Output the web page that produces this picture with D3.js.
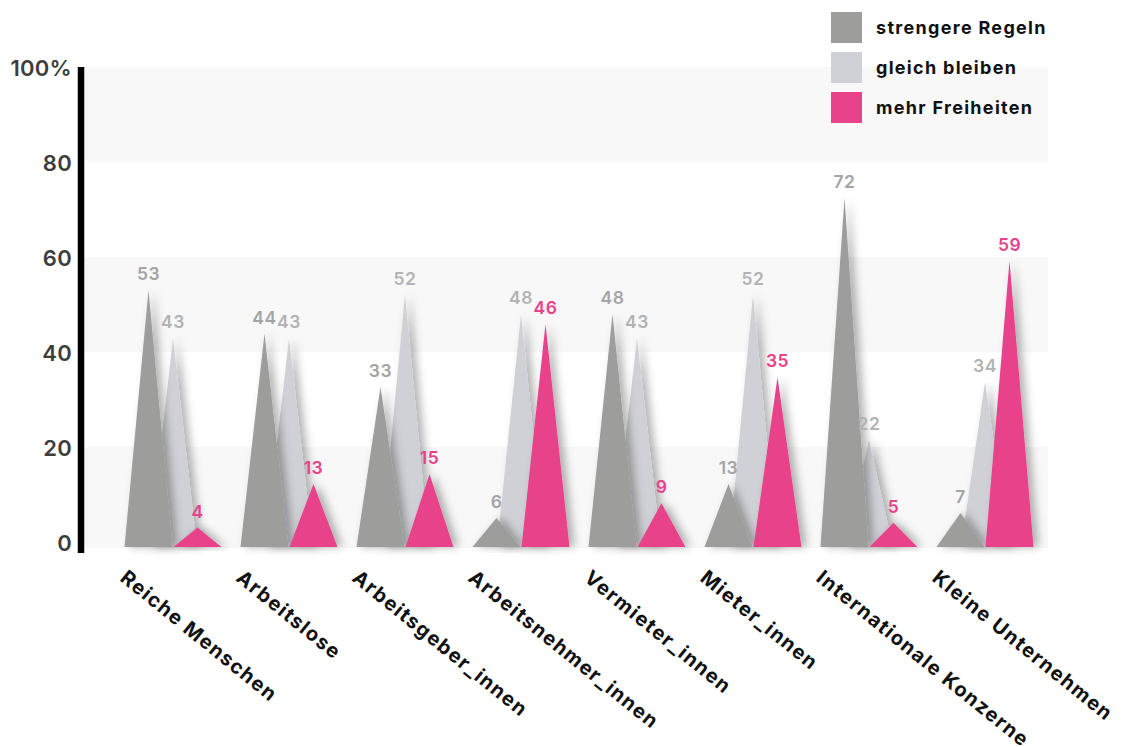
<!DOCTYPE html>
<html>
<head>
<meta charset="utf-8">
<title>Regeln oder Freiheiten</title>
<script src="https://cdnjs.cloudflare.com/ajax/libs/d3/7.8.5/d3.min.js"></script>
<style>
    body { margin:0; background:#fff; }
    svg { display:block; font-family:Inter, "Open Sans", sans-serif; }
</style>
</head>
<body>
<svg id="chart" width="1132" height="747"></svg>
<script>
// data
var categories = ["Reiche Menschen","Arbeitslose","Arbeitsgeber_innen","Arbeitsnehmer_innen",
                  "Vermieter_innen","Mieter_innen","Internationale Konzerne","Kleine Unternehmen"];
var strengere  = [53,44,33,6,48,13,72,7];
var gleich     = [43,43,52,48,43,52,22,34];
var freiheiten = [4,13,15,46,9,35,5,59];
var seriesNames = ["strengere Regeln","gleich bleiben","mehr Freiheiten"];
var yTicks = [0,20,40,60,80,100];

var colors = {"strengere Regeln":"#9d9d9c","gleich bleiben":"#d0d1d6","mehr Freiheiten":"#e8428a"};
var labelColors = {"strengere Regeln":"#a4a4a4","gleich bleiben":"#b3b3b5","mehr Freiheiten":"#e8428a"};
var values = {"strengere Regeln":strengere,"gleich bleiben":gleich,"mehr Freiheiten":freiheiten};

var svg = d3.select("#chart");

var defs = svg.append("defs");
var f = defs.append("filter").attr("id","shadow").attr("x","-50%").attr("y","-20%").attr("width","200%").attr("height","140%");
f.append("feDropShadow").attr("dx",5).attr("dy",0).attr("stdDeviation",4)
    .attr("flood-color","#000").attr("flood-opacity",0.3);

var x = d3.scaleBand().domain(categories).range([115,1043]);
var xs = d3.scalePoint().domain(seriesNames).range([-24.5,24.5]);
var yGrid = d3.scaleLinear().domain([0,100]).range([542,67]);
var y = d3.scaleLinear().domain([0,100]).range([547,62]);
var half = 24;

// light bands
var bands = [[80,100],[40,60],[0,20]];
svg.append("g").selectAll("rect").data(bands).join("rect")
    .attr("x",84).attr("width",964)
    .attr("y",function(d){return yGrid(d[1]);})
    .attr("height",function(d){return yGrid(d[0])-yGrid(d[1]) + (d[0]===0?6:0);})
    .attr("fill","#f8f8f8");

// y axis labels
var yAxis = d3.axisLeft(yGrid).tickValues(yTicks).tickSize(0).tickPadding(9)
    .tickFormat(function(d){return d===100 ? "100%" : d;});
var gy = svg.append("g").attr("transform","translate(81,1)").call(yAxis);
gy.select(".domain").remove();
gy.selectAll("text").attr("font-family","Inter, sans-serif").attr("font-size",22)
    .attr("font-weight",600).attr("fill","#3d3d3d").attr("letter-spacing",0.3);

// triangles: light first, then gray, then pink
var order = ["gleich bleiben","strengere Regeln","mehr Freiheiten"];
order.forEach(function(s){
    var data = categories.map(function(c,i){return {c:c, v:values[s][i]};});
    svg.append("g").selectAll("path").data(data).join("path")
        .attr("d",function(d){
            var cx = x(d.c) + x.bandwidth()/2 + xs(s);
            return "M"+(cx-half)+","+y(0)+"L"+cx+","+y(d.v)+"L"+(cx+half)+","+y(0)+"Z";
        })
        .attr("fill",colors[s])
        .attr("filter","url(#shadow)");
});

// axis lines
svg.append("line").attr("x1",81).attr("x2",81).attr("y1",67).attr("y2",553)
    .attr("stroke","#000").attr("stroke-width",6.5);
svg.append("line").attr("x1",78).attr("x2",1049).attr("y1",549.5).attr("y2",549.5)
    .attr("stroke","#000").attr("stroke-width",7).attr("filter","url(#shadow)");

// value labels
seriesNames.forEach(function(s){
    var data = categories.map(function(c,i){return {c:c, v:values[s][i]};});
    svg.append("g").selectAll("text").data(data).join("text")
        .attr("x",function(d){return x(d.c) + x.bandwidth()/2 + xs(s);})
        .attr("y",function(d){return y(d.v) - 10;})
        .attr("text-anchor","middle")
        .attr("font-size",17.5).attr("font-weight",600).attr("letter-spacing",0.5)
        .attr("fill",labelColors[s])
        .text(function(d){return d.v;});
});

// category labels
svg.append("g").selectAll("text").data(categories).join("text")
    .attr("transform",function(d){return "translate("+(x(d)+4)+",580) rotate(39)";})
    .attr("font-size",20).attr("font-weight",700).attr("fill","#111")
    .attr("letter-spacing",1.4)
    .text(function(d){return d;});

// legend
var lg = svg.append("g").selectAll("g").data(seriesNames).join("g")
    .attr("transform",function(d,i){return "translate(831,"+(12+i*40)+")";});
lg.append("rect").attr("width",31).attr("height",31).attr("fill",function(d){return colors[d];});
lg.append("text").attr("x",45).attr("y",22)
    .attr("font-size",18).attr("font-weight",700).attr("fill","#111").attr("letter-spacing",1.3)
    .text(function(d){return d;});
</script>
</body>
</html>
